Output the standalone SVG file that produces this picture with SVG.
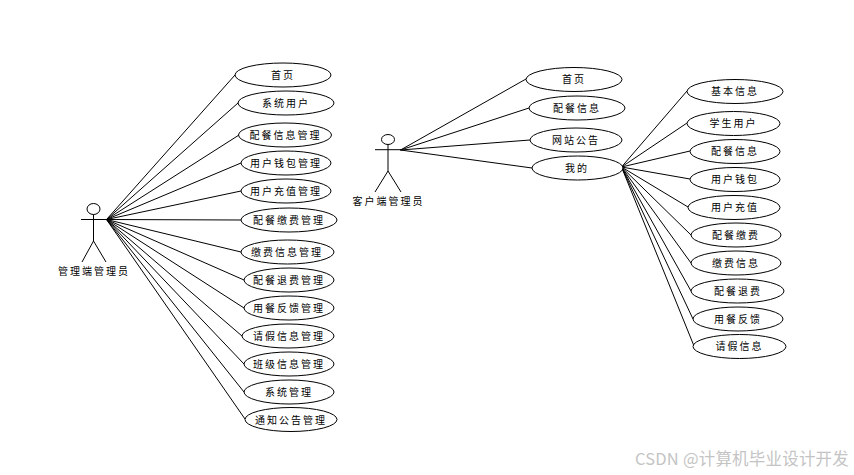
<svg xmlns="http://www.w3.org/2000/svg" width="854" height="475" viewBox="0 0 854 475">
<style>
.u{fill:#fff;stroke:#000;stroke-width:1}
.c{stroke:#000;stroke-width:1;fill:none}
.a{stroke:#000;stroke-width:1;fill:none}
text{font-family:"Noto Sans CJK SC","Liberation Sans",sans-serif;font-size:10px;letter-spacing:2px;text-anchor:middle;fill:#000}
.w{font-size:16.500px;letter-spacing:.2px;fill:#c4c4c4;text-anchor:start}
</style>
<rect width="854" height="475" fill="#fff"/>
<g id="connectors">
<path class="c" d="M106.500 219.500L235 75M106.500 219.500L238 103M106.500 219.500L239 135M106.500 219.500L241 163M106.500 219.500L241 191M106.500 219.500L241 220M106.500 219.500L241 252M106.500 219.500L244 280M106.500 219.500L244 308M106.500 219.500L242 336M106.500 219.500L244 364M106.500 219.500L244 392M106.500 219.500L245 419"/>
<path class="c" d="M400.500 150L526 79M400.500 150L529 108M400.500 150L530 140M400.500 150L532 168"/>
<path class="c" d="M621.500 167L687 91M621.500 167L687 123M621.500 167L690 151M621.500 167L690 179M621.500 167L688 207M621.500 167L691 235M621.500 167L691 263M621.500 167L691 291M621.500 167L693 319M621.500 167L694 346"/>
</g>
<g id="actor-admin"><ellipse class="a" cx="93.500" cy="209" rx="6.500" ry="5.500"/><path class="a" d="M81 219.500H107M93.500 214.500V241L82 262M93.500 241L106 262"/><text x="94" y="275">管理端管理员</text></g>
<g id="actor-client"><ellipse class="a" cx="388" cy="139.500" rx="6.500" ry="5"/><path class="a" d="M375 149.700H401M388 144.500V171L375 192M388 171L401 192"/><text x="388.500" y="205">客户端管理员</text></g>
<g id="a1"><ellipse class="u" cx="283" cy="75" rx="48" ry="12"/><text x="283" y="79">首页</text></g>
<g id="a2"><ellipse class="u" cx="286" cy="103" rx="48" ry="12"/><text x="286" y="107">系统用户</text></g>
<g id="a3"><ellipse class="u" cx="285" cy="135" rx="46.500" ry="12"/><text x="285.500" y="139">配餐信息管理</text></g>
<g id="a4"><ellipse class="u" cx="286" cy="163" rx="45" ry="12"/><text x="286" y="167">用户钱包管理</text></g>
<g id="a5"><ellipse class="u" cx="286" cy="191" rx="45" ry="12"/><text x="286" y="195">用户充值管理</text></g>
<g id="a6"><ellipse class="u" cx="289" cy="220" rx="48" ry="12"/><text x="289" y="224">配餐缴费管理</text></g>
<g id="a7"><ellipse class="u" cx="287.500" cy="252" rx="46.500" ry="12"/><text x="287" y="256">缴费信息管理</text></g>
<g id="a8"><ellipse class="u" cx="289" cy="280" rx="45" ry="12"/><text x="289" y="284">配餐退费管理</text></g>
<g id="a9"><ellipse class="u" cx="289" cy="308" rx="45" ry="12"/><text x="289" y="312">用餐反馈管理</text></g>
<g id="a10"><ellipse class="u" cx="288" cy="336" rx="46" ry="12"/><text x="289" y="340">请假信息管理</text></g>
<g id="a11"><ellipse class="u" cx="289" cy="364" rx="45" ry="12"/><text x="289" y="368">班级信息管理</text></g>
<g id="a12"><ellipse class="u" cx="289" cy="392" rx="45" ry="12"/><text x="289" y="396">系统管理</text></g>
<g id="a13"><ellipse class="u" cx="291" cy="419.500" rx="46" ry="12"/><text x="291" y="423.500">通知公告管理</text></g>
<g id="b1"><ellipse class="u" cx="574" cy="79.500" rx="48" ry="12"/><text x="574" y="83">首页</text></g>
<g id="b2"><ellipse class="u" cx="577" cy="108" rx="48" ry="12"/><text x="577" y="111.500">配餐信息</text></g>
<g id="b3"><ellipse class="u" cx="576" cy="140" rx="46" ry="12"/><text x="576" y="143.500">网站公告</text></g>
<g id="b4"><ellipse class="u" cx="577.500" cy="168" rx="45.500" ry="12"/><text x="577" y="171.500">我的</text></g>
<g id="c1"><ellipse class="u" cx="735" cy="91.500" rx="48" ry="12"/><text x="735" y="95">基本信息</text></g>
<g id="c2"><ellipse class="u" cx="733.500" cy="123.500" rx="46.500" ry="12"/><text x="733.500" y="127">学生用户</text></g>
<g id="c3"><ellipse class="u" cx="735" cy="151.500" rx="45" ry="12"/><text x="735" y="155">配餐信息</text></g>
<g id="c4"><ellipse class="u" cx="735" cy="179.500" rx="45" ry="12"/><text x="735" y="183">用户钱包</text></g>
<g id="c5"><ellipse class="u" cx="734" cy="207.500" rx="46" ry="12"/><text x="735" y="211">用户充值</text></g>
<g id="c6"><ellipse class="u" cx="736" cy="235" rx="45" ry="12"/><text x="736" y="238.500">配餐缴费</text></g>
<g id="c7"><ellipse class="u" cx="736" cy="263" rx="45" ry="12"/><text x="736" y="266.500">缴费信息</text></g>
<g id="c8"><ellipse class="u" cx="737.500" cy="291" rx="46.500" ry="12"/><text x="738" y="294.500">配餐退费</text></g>
<g id="c9"><ellipse class="u" cx="738" cy="319" rx="45" ry="12"/><text x="738" y="322.500">用餐反馈</text></g>
<g id="c10"><ellipse class="u" cx="739.500" cy="346.500" rx="46.500" ry="12"/><text x="739.500" y="350">请假信息</text></g>
<text class="w" x="635" y="465">CSDN @计算机毕业设计开发</text>
</svg>
